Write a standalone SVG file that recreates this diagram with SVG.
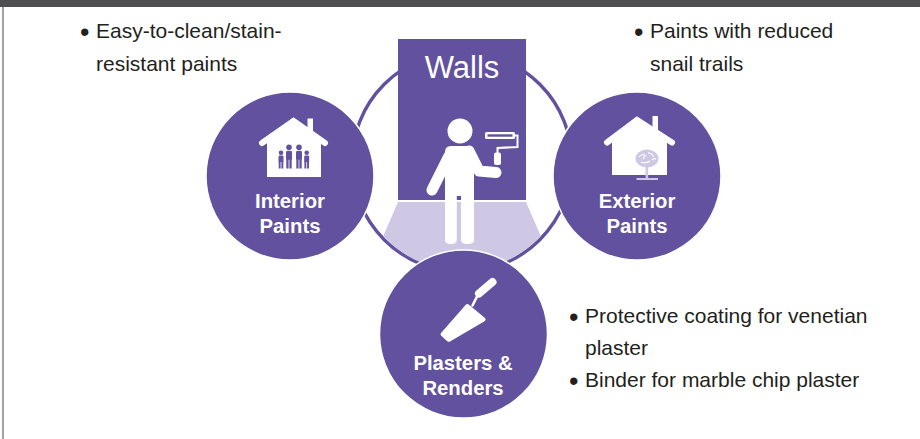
<svg xmlns="http://www.w3.org/2000/svg" width="920" height="439" viewBox="0 0 920 439">
<style>
.bg{fill:#ffffff}
.purple{fill:#62519e}
.node-circle{fill:#62519e;stroke:#ffffff;stroke-width:1.5}
.ring{fill:none;stroke:#62519e;stroke-width:3.4}
.floor{fill:#cfc8e4}
.icon{fill:#ffffff}
.fig{fill:#62519e}
.label{font-family:"Liberation Sans",Arial,sans-serif;font-weight:bold;font-size:20.3px;fill:#ffffff;text-anchor:middle}
.title{font-family:"Liberation Sans",Arial,sans-serif;font-size:31px;fill:#ffffff;text-anchor:middle}
.note{font-family:"Liberation Sans",Arial,sans-serif;font-size:21px;fill:#231f20}
.bullet{font-family:"Liberation Sans",Arial,sans-serif;font-size:27px;fill:#231f20}
</style>
<defs>
<clipPath id="ringInside"><circle cx="462" cy="162" r="108.3"/></clipPath>
</defs>
<g id="frame">
<rect class="bg" x="0" y="0" width="920" height="439"/>
<rect x="0" y="0" width="920" height="7" fill="#4f4f51"/>
<rect x="2" y="7" width="2" height="432" fill="#a3a3a3"/>
</g>
<g id="connectors">
<circle class="ring" cx="462" cy="162" r="110"/>
</g>
<g id="walls">
<polygon class="floor" clip-path="url(#ringInside)" points="398,202 526,202 562,285 362,285"/>
<rect class="purple" x="398" y="39" width="128" height="161"/>
<text class="title" x="462" y="78">Walls</text>
<circle class="icon" cx="460" cy="131" r="12.5"/>
<path class="icon" d="M451 146 H467 Q474 146 474 153 V240 Q474 244 467.5 244 Q461 244 461 240 V196 H456.8 V240 Q456.8 244 450.9 244 Q445 244 445 240 V152 Q445 146 451 146 Z"/>
<line x1="449" y1="156" x2="432" y2="190" stroke="#ffffff" stroke-width="11" stroke-linecap="round"/>
<path d="M469 151 L479 171 L496 172.5" fill="none" stroke="#ffffff" stroke-width="11" stroke-linecap="round" stroke-linejoin="round"/>
<rect class="icon" x="494" y="152.5" width="7" height="12.5" rx="2"/>
<polyline points="514,135.5 517.5,135.5 517.5,147 497.5,148 497.5,154" fill="none" stroke="#ffffff" stroke-width="2"/>
<rect class="icon" x="485" y="132" width="30" height="7" rx="1.5"/>
<rect class="purple" x="487.5" y="134.3" width="25" height="2.4"/>
</g>
<g id="interior-paints">
<circle class="node-circle" cx="290" cy="176" r="84"/>
<rect class="icon" x="307.5" y="118.5" width="5.5" height="18"/>
<polyline points="262,143 293.5,121 325,143" fill="none" stroke="#ffffff" stroke-width="6" stroke-linecap="round" stroke-linejoin="miter"/>
<polygon class="icon" points="267,140 293.5,122 321,140 321,177 267,177"/>
<g class="fig">
<circle cx="281" cy="152.8" r="2.3"/><rect x="278.5" y="155.6" width="5" height="6.5" rx="1.2"/><rect x="278.7" y="161" width="1.9" height="7.5"/><rect x="281.4" y="161" width="1.9" height="7.5"/>
<circle cx="289" cy="147.3" r="2.8"/><rect x="286" y="150.8" width="6" height="9" rx="1.5"/><rect x="286.3" y="158" width="2.3" height="10.5"/><rect x="289.4" y="158" width="2.3" height="10.5"/>
<circle cx="299" cy="147.3" r="2.8"/><rect x="296" y="150.8" width="6" height="9" rx="1.5"/><rect x="296.3" y="158" width="2.3" height="10.5"/><rect x="299.4" y="158" width="2.3" height="10.5"/>
<circle cx="306.7" cy="152.8" r="2.3"/><rect x="304.2" y="155.6" width="5" height="6.5" rx="1.2"/><rect x="304.4" y="161" width="1.9" height="7.5"/><rect x="307.1" y="161" width="1.9" height="7.5"/>
</g>
<text class="label" x="290" y="208">Interior</text>
<text class="label" x="290" y="233">Paints</text>
</g>
<g id="exterior-paints">
<circle class="node-circle" cx="637" cy="176" r="84"/>
<rect class="icon" x="652.5" y="116" width="5.5" height="18"/>
<polyline points="607,142.5 637,120 672,142.5" fill="none" stroke="#ffffff" stroke-width="6" stroke-linecap="round" stroke-linejoin="miter"/>
<polygon class="icon" points="612,139 637,121 667,139 667,175 612,175"/>
<ellipse cx="647" cy="158.5" rx="11.5" ry="9" fill="#cfc8e4"/>
<path d="M639 157 q3 -4 7 -1 M648 152.5 q4 1 6 4 M641 162 q4 2 9 -1 M652 160 q2 -2 4 -1 M644 154 q1 3 -1 5" fill="none" stroke="#ffffff" stroke-width="1.1"/>
<rect x="645.6" y="165" width="2.6" height="14" fill="#cfc8e4"/>
<rect x="636.5" y="178" width="21.5" height="2" fill="#cfc8e4"/>
<text class="label" x="637" y="208">Exterior</text>
<text class="label" x="637" y="233">Paints</text>
</g>
<g id="plasters-renders">
<circle class="node-circle" cx="463.5" cy="334" r="84"/>
<line x1="492.5" y1="282" x2="479" y2="293.5" stroke="#ffffff" stroke-width="8" stroke-linecap="round"/>
<line x1="478" y1="294.5" x2="472.5" y2="305.5" stroke="#ffffff" stroke-width="2.6" stroke-linecap="round"/>
<path class="icon" d="M466 304.5 Q467.5 303.5 469 304.8 L485 318 Q486.5 320 484.5 321.2 L450 341.5 Q448.5 342.3 447.3 341.2 L441 335.5 Q440 334.3 441 333 Z"/>
<text class="label" x="463" y="370">Plasters &amp;</text>
<text class="label" x="463" y="395">Renders</text>
</g>
<g id="notes">
<text class="bullet" x="80" y="40.5">•</text>
<text class="note" x="96" y="38">Easy-to-clean/stain-</text>
<text class="note" x="96" y="71">resistant paints</text>
<text class="bullet" x="634" y="40.5">•</text>
<text class="note" x="650" y="38">Paints with reduced</text>
<text class="note" x="650" y="71">snail trails</text>
<text class="bullet" x="569" y="325.5">•</text>
<text class="note" x="585" y="323">Protective coating for venetian</text>
<text class="note" x="585" y="355">plaster</text>
<text class="bullet" x="569" y="389.5">•</text>
<text class="note" x="585" y="387">Binder for marble chip plaster</text>
</g>
</svg>
